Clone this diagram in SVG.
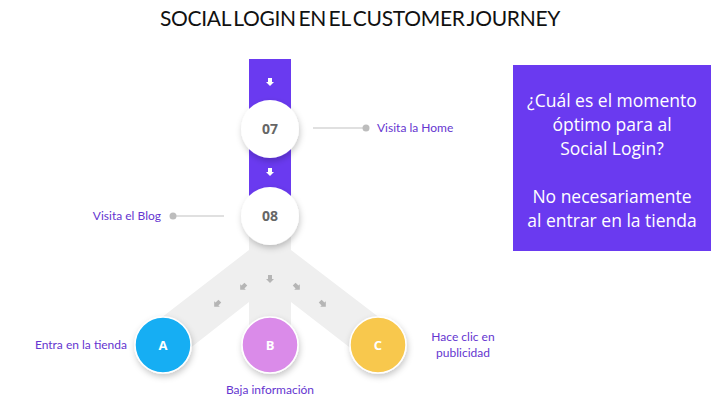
<svg xmlns="http://www.w3.org/2000/svg" width="720" height="405" viewBox="0 0 720 405">
<style>
.title{font-family:Lato,"Open Sans",sans-serif;font-size:21px;fill:#111;text-anchor:middle;letter-spacing:-0.3px;word-spacing:-2.5px}
.lbl{font-family:Lato,"Open Sans",sans-serif;font-size:12px;fill:#6535D0}
.num{font-family:"Open Sans",Lato,sans-serif;font-size:14px;font-weight:bold;fill:#666;text-anchor:middle}
.let{font-family:"Open Sans",Lato,sans-serif;font-size:13px;font-weight:bold;fill:#fff;text-anchor:middle}
.box{font-family:"Open Sans",Lato,sans-serif;font-size:17.5px;fill:#fff;text-anchor:middle}
.lead{stroke:#d6d6d6;stroke-width:1.5}
.dot{fill:#bdbdbd}
.warr{fill:#fff}
.garr{fill:#b5b5b5}
</style>
<defs>
<filter id="sh" x="-40%" y="-40%" width="180%" height="180%">
<feDropShadow dx="1" dy="3" stdDeviation="3" flood-color="#000" flood-opacity="0.22"/>
</filter>
<path id="ar" d="M-2,-4 H2 V0 H4 L0,4 L-4,0 H-2 Z"/>
</defs>
<rect width="720" height="405" fill="#fff"/>
<text class="title" x="360" y="26">SOCIAL LOGIN EN EL CUSTOMER JOURNEY</text>

<g id="connectors">
<rect x="249" y="59" width="42" height="160" fill="#6A3AF0"/>
<use href="#ar" class="warr" x="270" y="82"/>
<use href="#ar" class="warr" x="270" y="172"/>
<path d="M249,230 H291 V250 L393,328 L366,360 L291,302 V345 H249 V302 L175,360 L148,328 L249,250 Z" fill="#efefef"/>
<use href="#ar" class="garr" x="270" y="279"/>
<use href="#ar" class="garr" transform="translate(243,287) rotate(45)"/>
<use href="#ar" class="garr" transform="translate(217,304) rotate(45)"/>
<use href="#ar" class="garr" transform="translate(297,287) rotate(-45)"/>
<use href="#ar" class="garr" transform="translate(323,304) rotate(-45)"/>
<line class="lead" x1="313" y1="128" x2="364" y2="128"/>
<circle class="dot" cx="366" cy="128" r="3.5"/>
<line class="lead" x1="176" y1="216" x2="224" y2="216"/>
<circle class="dot" cx="173" cy="216" r="3.5"/>
</g>

<g id="n07">
<circle cx="270" cy="129" r="29" fill="#fff" filter="url(#sh)"/>
<text class="num" x="270" y="134">07</text>
</g>
<g id="n08">
<circle cx="270" cy="216" r="29" fill="#fff" filter="url(#sh)"/>
<text class="num" x="270" y="221">08</text>
</g>
<g id="nA">
<circle cx="163" cy="345" r="28" fill="#14AEF3" stroke="#fff" stroke-width="1.5" filter="url(#sh)"/>
<text class="let" x="163" y="350">A</text>
</g>
<g id="nB">
<circle cx="270" cy="345" r="28" fill="#DA8BE9" stroke="#fff" stroke-width="1.5" filter="url(#sh)"/>
<text class="let" x="270" y="350">B</text>
</g>
<g id="nC">
<circle cx="378" cy="345" r="28" fill="#F8C84E" stroke="#fff" stroke-width="1.5" filter="url(#sh)"/>
<text class="let" x="378" y="350">C</text>
</g>

<g id="labels">
<text class="lbl" x="377" y="132">Visita la Home</text>
<text class="lbl" x="161" y="220" text-anchor="end">Visita el Blog</text>
<text class="lbl" x="127" y="349" text-anchor="end">Entra en la tienda</text>
<text class="lbl" x="270" y="394" text-anchor="middle">Baja información</text>
<text class="lbl" x="463" y="341" text-anchor="middle">Hace clic en</text>
<text class="lbl" x="463" y="357" text-anchor="middle">publicidad</text>
</g>

<g id="note">
<rect x="513" y="65" width="198" height="186" fill="#6A3AF0"/>
<text class="box" x="612" y="107">¿Cuál es el momento</text>
<text class="box" x="612" y="131">óptimo para al</text>
<text class="box" x="612" y="155">Social Login?</text>
<text class="box" x="612" y="203">No necesariamente</text>
<text class="box" x="612" y="227">al entrar en la tienda</text>
</g>
</svg>
